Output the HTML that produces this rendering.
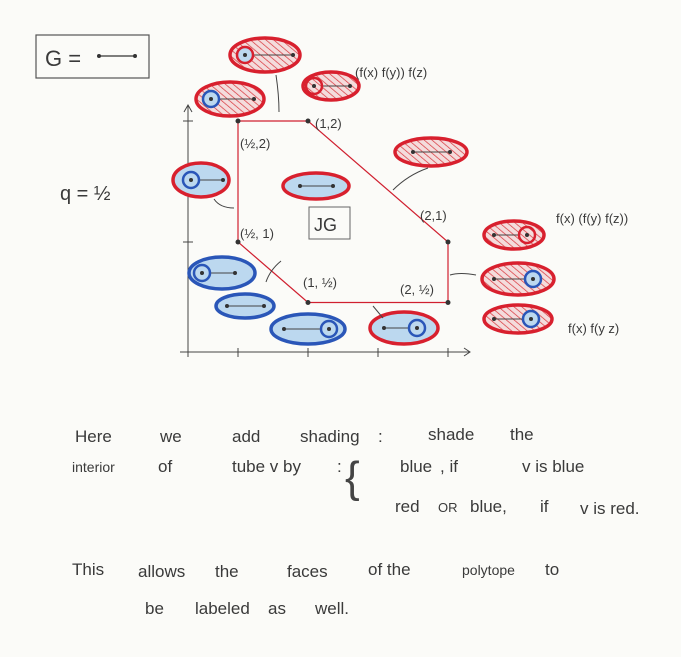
<!DOCTYPE html>
<html><head><meta charset="utf-8"><style>
html,body{margin:0;padding:0;background:#fbfbf8;}
svg{display:block;}
text{font-family:"Liberation Sans",sans-serif;fill:#3a3a3a;}
.hw{font-size:17px;}
.sm{font-size:13px;}
</style></head><body>
<svg width="681" height="657" viewBox="0 0 681 657" xmlns="http://www.w3.org/2000/svg">
<defs>
<pattern id="hatch" patternUnits="userSpaceOnUse" width="5" height="5" patternTransform="rotate(-50)">
<rect width="5" height="5" fill="#f4dcdc"/>
<line x1="0" y1="0" x2="0" y2="5" stroke="#d8333a" stroke-width="1.4"/>
</pattern>
</defs>
<rect width="681" height="657" fill="#fbfbf8"/>
<g>
<rect x="36" y="35" width="113" height="43" fill="none" stroke="#555" stroke-width="1.2"/>
<text x="45" y="66" style="font-size:22px">G =</text>
<line x1="99" y1="56" x2="135" y2="56" stroke="#333" stroke-width="1.3"/>
<circle cx="99" cy="56" r="2" fill="#333"/><circle cx="135" cy="56" r="2" fill="#333"/>
</g>
<text x="60" y="200" style="font-size:20px">q = ½</text>
<g id="axes"></g>
<g id="poly"></g>
<g id="tubes"></g>
<g>
<rect x="309" y="207" width="41" height="32" fill="none" stroke="#666" stroke-width="1"/>
<text x="314" y="231" style="font-size:18px">JG</text>
</g>
<g fill="none" stroke="#444" stroke-width="1">
<path d="M276 75 Q279 95 279 112"/><path d="M428 168 Q408 175 393 190"/>
<path d="M214 199 Q220 208 234 208"/><path d="M281 261 Q270 270 266 282"/>
<path d="M476 275 Q460 272 450 275"/><path d="M383 318 Q378 312 373 306"/>
</g>
<g class="sm">
<text x="355" y="77">(f(x) f(y)) f(z)</text>
<text x="556" y="223">f(x) (f(y) f(z))</text>
<text x="568" y="333">f(x) f(y z)</text>
</g>
<g class="sm">
<text x="315" y="128">(1,2)</text><text x="240" y="148">(½,2)</text>
<text x="420" y="220">(2,1)</text><text x="240" y="238">(½, 1)</text>
<text x="303" y="287">(1, ½)</text><text x="400" y="294">(2, ½)</text>
</g>
<g class="hw">
<text x="75" y="442">Here</text><text x="160" y="442">we</text><text x="232" y="442">add</text><text x="300" y="442">shading</text><text x="378" y="442">:</text><text x="428" y="440">shade</text><text x="510" y="440">the</text>
<text x="72" y="472" style="font-size:14px">interior</text><text x="158" y="472">of</text><text x="232" y="472">tube v by</text><text x="337" y="472">:</text>
<text x="345" y="492" style="font-size:44px;fill:#444">{</text>
<text x="400" y="472">blue</text><text x="440" y="472">, if</text><text x="522" y="472">v is blue</text>
<text x="395" y="512">red</text><text x="438" y="512" style="font-size:13px">OR</text><text x="470" y="512">blue,</text><text x="540" y="512">if</text><text x="580" y="514">v is red.</text>
<text x="72" y="575">This</text><text x="138" y="577">allows</text><text x="215" y="577">the</text><text x="287" y="577">faces</text><text x="368" y="575">of the</text><text x="462" y="575" style="font-size:14px">polytope</text><text x="545" y="575">to</text>
<text x="145" y="614">be</text><text x="195" y="614">labeled</text><text x="268" y="614">as</text><text x="315" y="614">well.</text>
</g>
</svg>
<script>
const vertexX=[0.5,1,2,2,1,0.5];
const vertexY=[2,2,1,0.5,0.5,1];
const xTicks=[0.5,1,1.5,2];
const yTicks=[1,2];
const sx=v=>168+140*v, sy=v=>363-121*v;
const NS='http://www.w3.org/2000/svg';
function mk(t,a,p){const e=document.createElementNS(NS,t);for(const k in a)e.setAttribute(k,a[k]);p.appendChild(e);return e;}
const ax=document.getElementById('axes');
const xa=mk('path',{d:'M180 352 L470 352 M464 348 L470 352 L464 356',fill:'none',stroke:'#444','stroke-width':1},ax);


const ya=mk('path',{d:'M188 357 L188 105 M184 112 L188 105 L192 112',fill:'none',stroke:'#444','stroke-width':1},ax);


xTicks.forEach(v=>{const t=mk('line',{x1:sx(v),x2:sx(v),y1:348,y2:357,stroke:'#444'},ax);

});
yTicks.forEach(v=>{const t=mk('line',{x1:183,x2:193,y1:sy(v),y2:sy(v),stroke:'#444'},ax);

});
const pg=document.getElementById('poly');
const pts=vertexX.map((x,i)=>sx(x)+','+sy(vertexY[i])).join(' ');
const poly=mk('polygon',{points:pts,fill:'none',stroke:'#d02030','stroke-width':1.2},pg);


vertexX.forEach((x,i)=>{const c=mk('circle',{cx:sx(x),cy:sy(vertexY[i]),r:2.5,fill:'#333'},pg);

});
const tubeList=[
[265,55,35,17,'r','h',245,'rb',245,293],[331,86,28,14,'r','h',314,'r',314,350],
[230,99,34,17,'r','h',211,'b',211,254],[431,152,36,14,'r','h',null,null,413,450],
[201,180,28,17,'r','b',191,'b',191,223],[316,186,33,13,'r','b',null,null,300,333],
[222,273,33,16,'b','b',202,'b',202,235],[245,306,29,12,'b','b',null,null,227,264],
[308,329,37,15,'b','b',329,'b',284,329],[404,328,34,16,'r','b',417,'b',384,417],
[514,235,30,14,'r','h',527,'r',494,527],[518,279,36,16,'r','h',533,'b',494,533],
[518,319,34,14,'r','h',531,'b',494,531]];
const tg=document.getElementById('tubes');
tubeList.forEach(t=>{const [cx,cy,rx,ry,oc,f,rxp,rc,s1,s2]=t;
const g=mk('g',{},tg);


mk('ellipse',{cx,cy,rx,ry,fill:f==='h'?'url(#hatch)':'#bcd8ef',stroke:oc==='r'?'#d8202e':'#2a56b8','stroke-width':3.5},g);
mk('line',{x1:s1,y1:cy,x2:s2,y2:cy,stroke:'#444','stroke-width':1},g);
if(rxp!==null){mk('circle',{cx:rxp,cy,r:8,fill:rc==='r'?'url(#hatch)':'#bcd8ef',stroke:rc==='r'||rc==='rb'?'#d8202e':'#2a56b8','stroke-width':2.5},g);}
mk('circle',{cx:s1,cy,r:2,fill:'#333'},g);mk('circle',{cx:s2,cy,r:2,fill:'#333'},g);
});
</script>
</body></html>
